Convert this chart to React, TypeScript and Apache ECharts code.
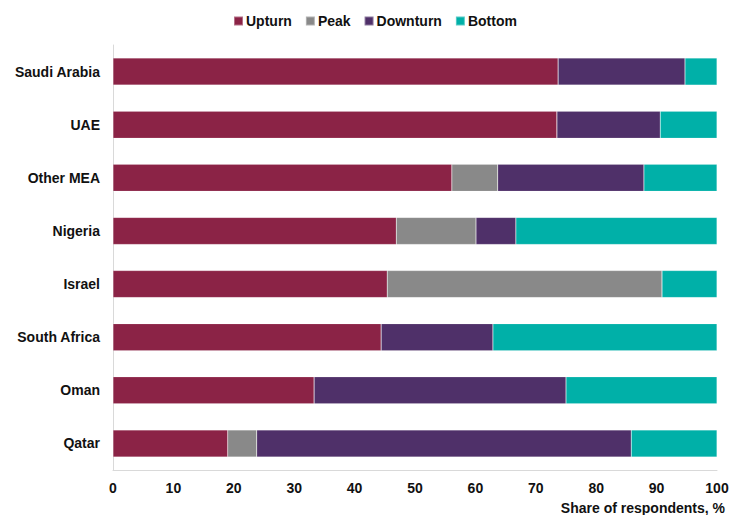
import React, { useEffect, useRef } from "react";
import * as echarts from "echarts";

const categories = ["Saudi Arabia", "UAE", "Other MEA", "Nigeria", "Israel", "South Africa", "Oman", "Qatar"];
const upturn = [73.7, 73.5, 56.1, 46.9, 45.4, 44.4, 33.3, 19.0];
const peak = [0, 0, 7.6, 13.2, 45.5, 0, 0, 4.8];
const downturn = [21.0, 17.1, 24.2, 6.6, 0, 18.5, 41.7, 62.0];
const bottom = [5.3, 9.4, 12.1, 33.3, 9.1, 37.1, 25.0, 14.2];

const seriesNames = ["Upturn", "Peak", "Downturn", "Bottom"];
const colors = ["#8B2346", "#898989", "#4F3069", "#00B0A8"];
const xTicks = [0, 10, 20, 30, 40, 50, 60, 70, 80, 90, 100];

export default function App() {
  const ref = useRef<HTMLDivElement>(null);
  useEffect(() => {
    if (!ref.current) return;
    const chart = echarts.init(ref.current, undefined, { renderer: "svg" });
    const font = "'Liberation Sans', Arial, sans-serif";
    const data = [upturn, peak, downturn, bottom];
    chart.setOption({
      animation: false,
      textStyle: { fontFamily: font },
      legend: {
        top: 9,
        left: 228,
        itemWidth: 9,
        itemHeight: 9,
        itemGap: 13,
        icon: "rect",
        textStyle: { fontFamily: font, fontWeight: "bold", fontSize: 14, color: "#111", padding: [0, 0, 0, -2] },
        data: seriesNames,
      },
      grid: { left: 113, right: 23, top: 45, bottom: 45 },
      xAxis: {
        type: "value",
        min: 0,
        max: 100,
        interval: 10,
        axisLine: { show: true, lineStyle: { color: "#d9d9d9" } },
        axisTick: { show: false },
        splitLine: { show: false },
        axisLabel: {
          fontFamily: font,
          fontWeight: "bold",
          fontSize: 14,
          color: "#111",
          margin: 11,
          formatter: (v: number) => (xTicks.includes(v) ? String(v) : ""),
        },
      },
      yAxis: {
        type: "category",
        data: categories,
        inverse: true,
        axisLine: { show: true, lineStyle: { color: "#d9d9d9" } },
        axisTick: { show: false },
        axisLabel: { fontFamily: font, fontWeight: "bold", fontSize: 14, color: "#111", margin: 13 },
      },
      series: seriesNames.map((name, i) => ({
        name,
        type: "bar",
        stack: "total",
        barWidth: "51%",
        itemStyle: { color: colors[i], borderColor: "rgba(255,255,255,0.35)", borderWidth: 0.5 },
        data: data[i],
      })),
      graphic: [
        {
          type: "text",
          right: 15,
          top: 501,
          style: { text: "Share of respondents, %", fontFamily: font, fontWeight: "bold", fontSize: 14, fill: "#111" },
        },
      ],
    });
    return () => chart.dispose();
  }, []);
  return <div ref={ref} style={{ width: 740, height: 515, position: "absolute", left: 0, top: 0 }} />;
}
